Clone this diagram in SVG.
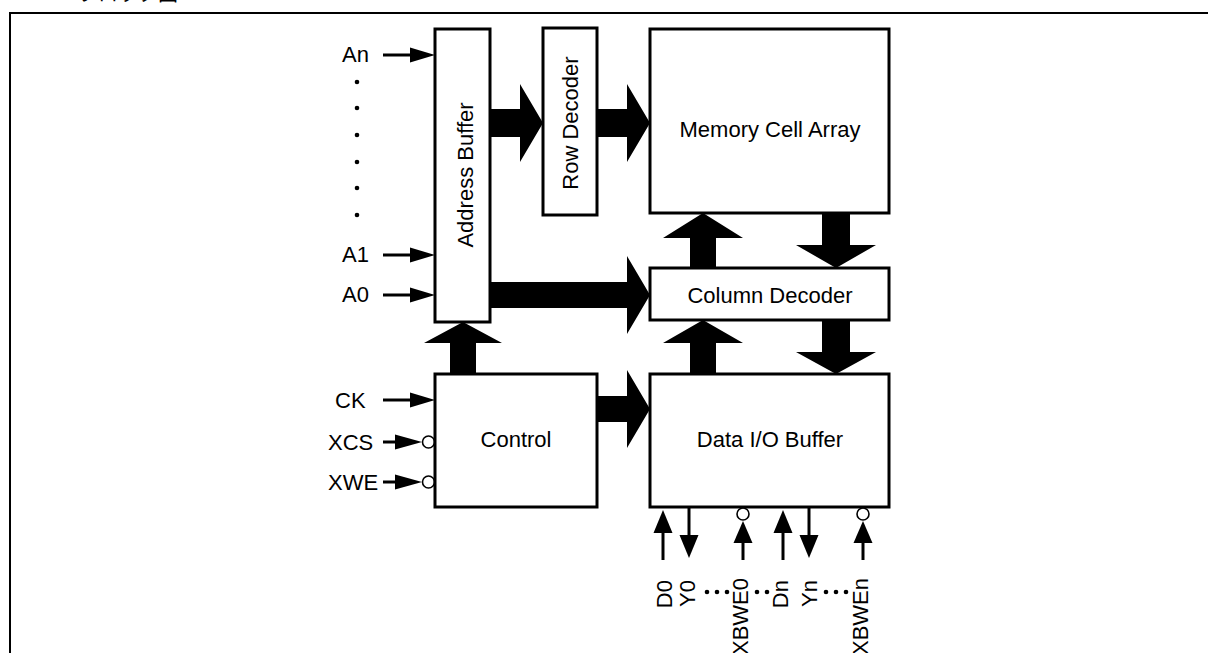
<svg xmlns="http://www.w3.org/2000/svg" width="1208" height="653" viewBox="0 0 1208 653">
<style>
.box{fill:#fff;stroke:#000;stroke-width:3}
.t{font-family:"Liberation Sans",Arial,sans-serif;font-size:22px;fill:#000}
.m{text-anchor:middle}
.ln{stroke:#000;stroke-width:3;fill:none}
.big{fill:#000}
.hd{fill:#000}
.bub{fill:#fff;stroke:#000;stroke-width:1.6}
.dot{fill:#000}
</style>
<rect width="1208" height="653" fill="#fff"/>
<text class="t" x="178" y="1" text-anchor="end" style="font-family:'Noto Sans CJK JP',sans-serif;font-size:20px">ブロック図</text>
<path d="M10,653 V13 H1208" fill="none" stroke="#000" stroke-width="2"/>

<g id="connectors">
  <polygon class="big" points="490,109 520,109 520,84 543,123 520,162 520,137 490,137"/>
  <polygon class="big" points="597,109 627,109 627,84 650,123 627,162 627,137 597,137"/>
  <polygon class="big" points="490,282 627,282 627,256 650,295 627,334 627,308 490,308"/>
  <polygon class="big" points="450,374 450,343 424,343 463,322 502,343 476,343 476,374"/>
  <polygon class="big" points="597,396 627,396 627,370 650,409 627,448 627,422 597,422"/>
  <polygon class="big" points="690,268 690,238 663,238 703,213 743,238 716,238 716,268"/>
  <polygon class="big" points="690,374 690,343 663,343 703,320 743,343 716,343 716,374"/>
  <polygon class="big" points="822,213 822,245 796,245 836,268 876,245 850,245 850,213"/>
  <polygon class="big" points="822,320 822,352 796,352 836,374 876,352 850,352 850,320"/>
  <line class="ln" x1="383" y1="55" x2="412" y2="55"/><polygon class="hd" points="410,47.5 435,55 410,62.5"/>
  <line class="ln" x1="383" y1="255" x2="412" y2="255"/><polygon class="hd" points="410,247.5 435,255 410,262.5"/>
  <line class="ln" x1="383" y1="295" x2="412" y2="295"/><polygon class="hd" points="410,287.5 435,295 410,302.5"/>
  <line class="ln" x1="383" y1="400" x2="412" y2="400"/><polygon class="hd" points="410,392.5 435,400 410,407.5"/>
  <line class="ln" x1="383" y1="442" x2="397" y2="442"/><polygon class="hd" points="395,434.5 422,442 395,449.5"/>
  <circle class="bub" cx="428.5" cy="442" r="6"/>
  <line class="ln" x1="383" y1="482" x2="397" y2="482"/><polygon class="hd" points="395,474.5 422,482 395,489.5"/>
  <circle class="bub" cx="428.5" cy="482" r="6"/>
  <line class="ln" x1="663" y1="560" x2="663" y2="530"/><polygon class="hd" points="653.5,533 663,510 672.5,533"/>
  <line class="ln" x1="689" y1="508" x2="689" y2="537"/><polygon class="hd" points="679.5,535 689,558 698.5,535"/>
  <line class="ln" x1="743" y1="560" x2="743" y2="541"/><polygon class="hd" points="733.5,543 743,521 752.5,543"/>
  <circle class="bub" cx="743" cy="514" r="6"/>
  <line class="ln" x1="783" y1="560" x2="783" y2="530"/><polygon class="hd" points="773.5,533 783,510 792.5,533"/>
  <line class="ln" x1="809" y1="508" x2="809" y2="537"/><polygon class="hd" points="799.5,535 809,558 818.5,535"/>
  <line class="ln" x1="863" y1="560" x2="863" y2="541"/><polygon class="hd" points="853.5,543 863,521 872.5,543"/>
  <circle class="bub" cx="863" cy="514" r="6"/>
</g>

<g id="address-buffer">
  <rect class="box" x="435" y="29" width="55" height="293"/>
  <text class="t m" transform="translate(473,175) rotate(-90)">Address Buffer</text>
</g>
<g id="row-decoder">
  <rect class="box" x="543" y="28" width="54" height="187"/>
  <text class="t m" transform="translate(578,123) rotate(-90)">Row Decoder</text>
</g>
<g id="memory-cell-array">
  <rect class="box" x="650" y="29" width="239" height="184"/>
  <text class="t m" x="770" y="137">Memory Cell Array</text>
</g>
<g id="column-decoder">
  <rect class="box" x="650" y="268" width="239" height="52"/>
  <text class="t m" x="770" y="303">Column Decoder</text>
</g>
<g id="control">
  <rect class="box" x="435" y="374" width="162" height="133"/>
  <text class="t m" x="516" y="447">Control</text>
</g>
<g id="data-io-buffer">
  <rect class="box" x="650" y="374" width="239" height="133"/>
  <text class="t m" x="770" y="447">Data I/O Buffer</text>
</g>

<g id="labels">
  <text class="t" x="342" y="62">An</text>
  <circle class="dot" cx="357" cy="82" r="2.3"/>
  <circle class="dot" cx="357" cy="108" r="2.3"/>
  <circle class="dot" cx="357" cy="135" r="2.3"/>
  <circle class="dot" cx="357" cy="162" r="2.3"/>
  <circle class="dot" cx="357" cy="188" r="2.3"/>
  <circle class="dot" cx="357" cy="215" r="2.3"/>
  <text class="t" x="342" y="262">A1</text>
  <text class="t" x="342" y="302">A0</text>
  <text class="t" x="335" y="408">CK</text>
  <text class="t" x="328" y="450">XCS</text>
  <text class="t" x="328" y="490">XWE</text>
  <text class="t" text-anchor="end" transform="translate(672,580) rotate(-90)">D0</text>
  <text class="t" text-anchor="end" transform="translate(695,580) rotate(-90)">Y0</text>
  <text class="t" text-anchor="end" transform="translate(748,578) rotate(-90)">XBWE0</text>
  <text class="t" text-anchor="end" transform="translate(788,580) rotate(-90)">Dn</text>
  <text class="t" text-anchor="end" transform="translate(817,580) rotate(-90)">Yn</text>
  <text class="t" text-anchor="end" transform="translate(868,578) rotate(-90)">XBWEn</text>
  <circle class="dot" cx="707" cy="592" r="2.3"/>
  <circle class="dot" cx="717" cy="592" r="2.3"/>
  <circle class="dot" cx="727" cy="592" r="2.3"/>
  <circle class="dot" cx="757" cy="592" r="2.3"/>
  <circle class="dot" cx="767" cy="592" r="2.3"/>
  <circle class="dot" cx="826" cy="592" r="2.3"/>
  <circle class="dot" cx="836" cy="592" r="2.3"/>
  <circle class="dot" cx="846" cy="592" r="2.3"/>
</g>
</svg>
